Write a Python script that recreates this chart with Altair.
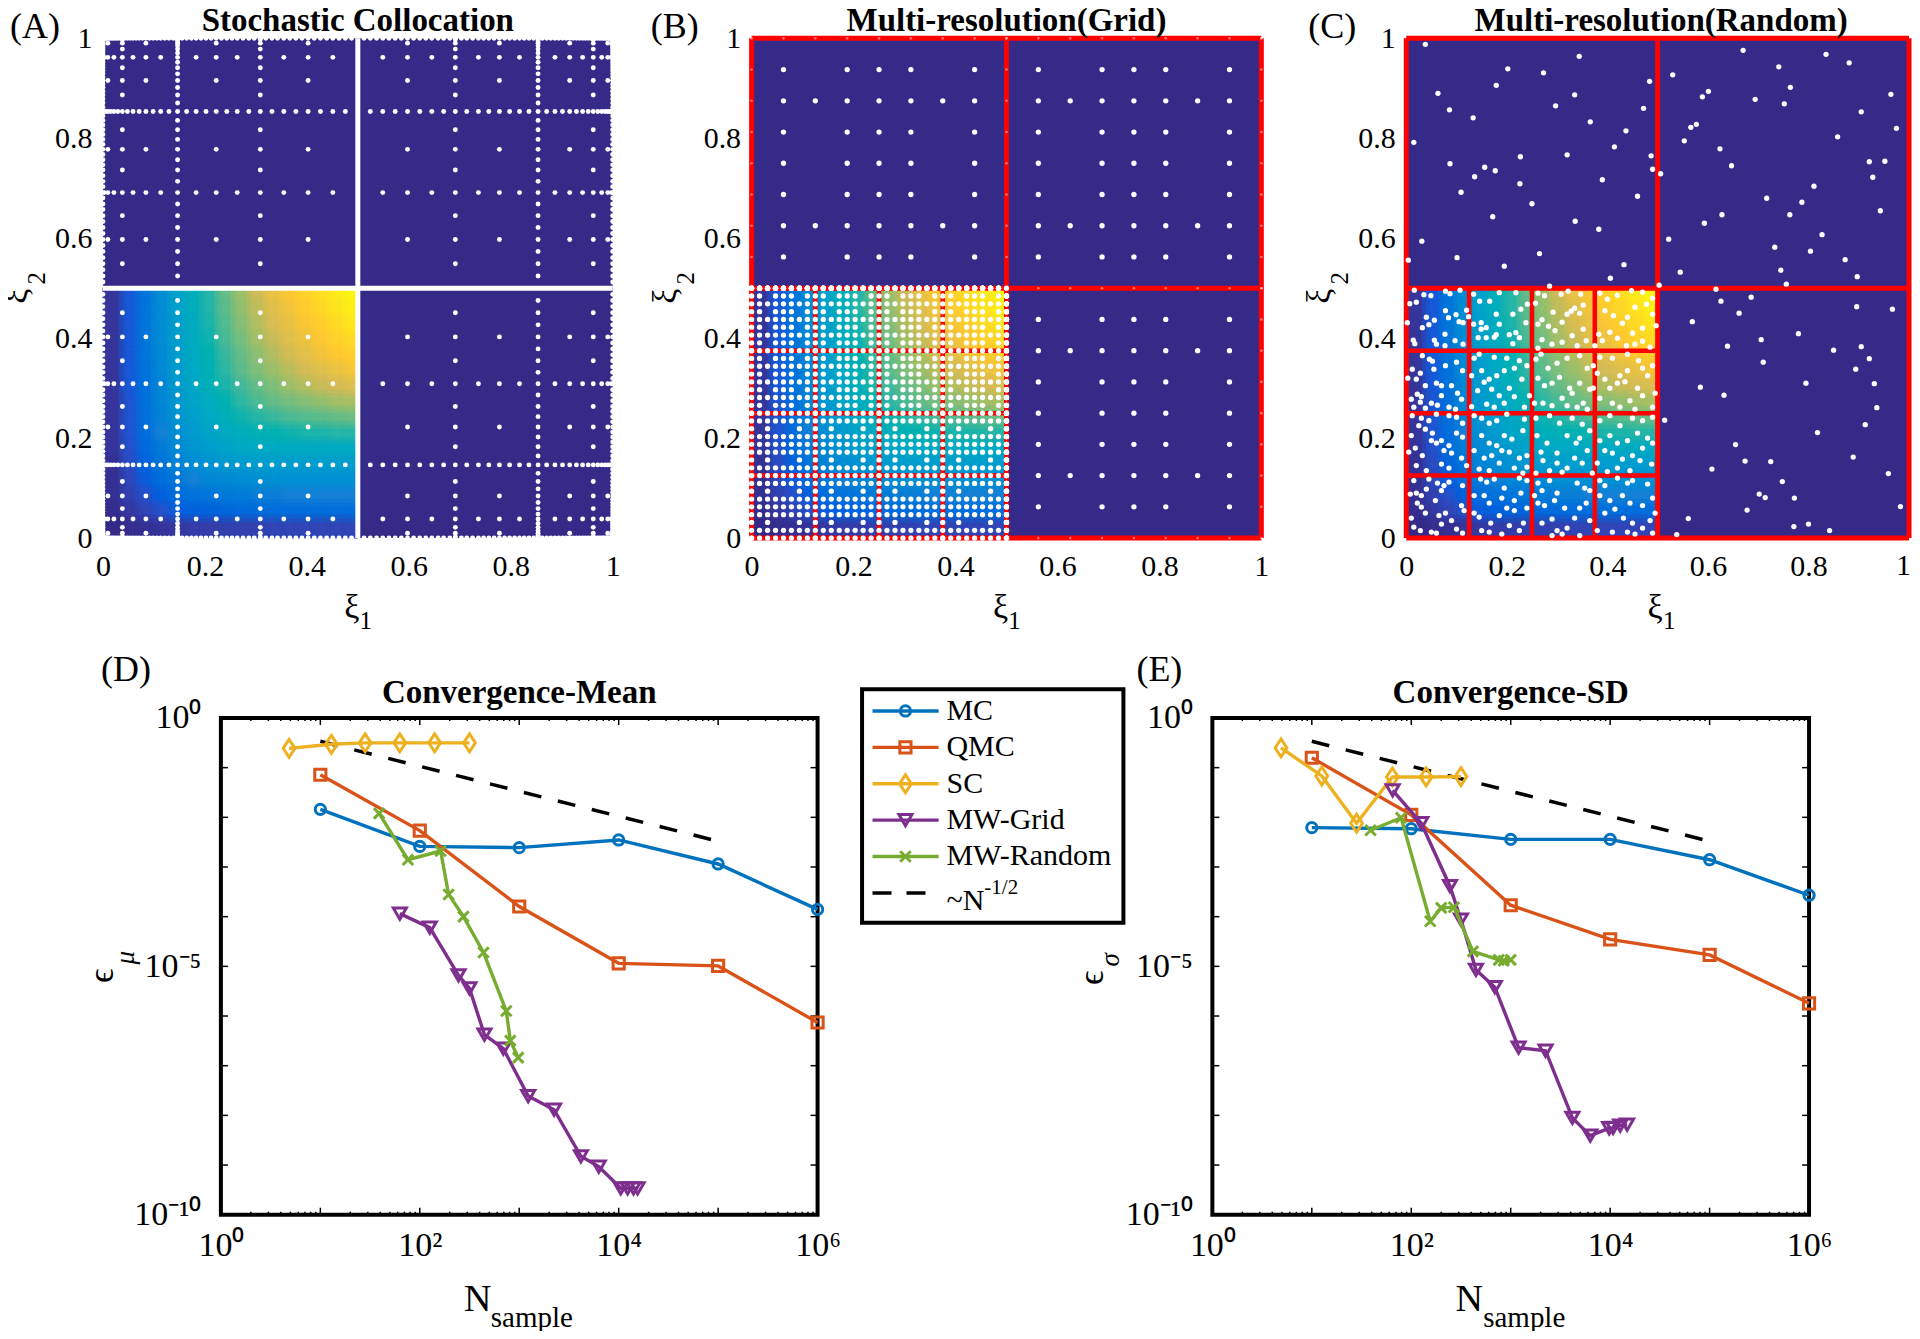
import altair as alt
import pandas as pd

SERIF = "Liberation Serif"
DARK = "#352a87"
RED = "#ff0000"
W, H = 510, 500
W_C = 503
WB, HB = 597, 497

PARULA_STOPS = [0, 0.125, 0.25, 0.375, 0.5, 0.6, 0.7, 0.82, 1]
PARULA_COLORS = ["#352a87", "#0f5cdd", "#1481d6", "#06a4ca", "#2eb7a4", "#87bf77", "#d1bb59", "#fec832", "#f9fb0e"]

# field of the lower-left quadrant; rows from y=0 upward, hundredths
FIELD = [
    [0, 1, 2, 3, 4, 5, 5, 6, 6, 6, 7, 7, 7, 7, 7, 7],
    [1, 4, 7, 10, 13, 14, 15, 16, 17, 17, 18, 18, 18, 18, 18, 18],
    [2, 6, 10, 14, 18, 20, 21, 22, 23, 24, 24, 25, 25, 25, 25, 25],
    [2, 8, 13, 18, 22, 25, 27, 28, 29, 30, 30, 30, 30, 30, 30, 30],
    [2, 9, 15, 21, 26, 29, 31, 33, 34, 35, 35, 35, 35, 35, 35, 35],
    [3, 10, 17, 23, 28, 32, 35, 37, 39, 40, 40, 41, 41, 41, 41, 41],
    [3, 11, 18, 25, 30, 34, 38, 41, 43, 45, 46, 47, 48, 48, 49, 49],
    [3, 11, 19, 26, 32, 36, 40, 44, 47, 49, 51, 53, 54, 55, 56, 57],
    [3, 11, 19, 27, 33, 38, 42, 46, 50, 53, 56, 58, 60, 62, 64, 65],
    [3, 12, 20, 27, 34, 39, 44, 48, 52, 56, 59, 63, 66, 69, 71, 73],
    [3, 12, 20, 28, 35, 40, 45, 50, 55, 59, 63, 67, 71, 74, 77, 80],
    [3, 12, 21, 28, 35, 41, 46, 51, 56, 61, 66, 71, 75, 79, 82, 85],
    [3, 12, 21, 29, 36, 42, 47, 53, 58, 64, 69, 74, 78, 82, 86, 89],
    [3, 12, 21, 29, 36, 42, 48, 54, 60, 66, 72, 77, 81, 85, 89, 93],
    [3, 12, 21, 29, 37, 43, 49, 55, 62, 68, 74, 79, 84, 88, 92, 96],
    [3, 12, 21, 29, 37, 43, 49, 56, 63, 70, 77, 82, 86, 90, 95, 99],
]

# Panel A sample coordinates (nested levels, lower half; upper half mirrors)
L4 = [0.1464]
L8 = [0.0381, 0.3087]
L16 = [0.0096, 0.0843, 0.2222, 0.4025]
L32 = [0.0024, 0.0215, 0.0590, 0.1133, 0.1828, 0.2634, 0.3548, 0.4510]
L64 = [0.0006, 0.0054, 0.0150, 0.0292, 0.0480, 0.0711, 0.0984, 0.1295, 0.1642, 0.2022, 0.2430, 0.2862, 0.3316, 0.3785, 0.4267, 0.4755]
L128 = [0.0002, 0.0014, 0.0038, 0.0074, 0.0122, 0.0182, 0.0253, 0.0335, 0.0429, 0.0534, 0.0650, 0.0776, 0.0913, 0.1058, 0.1214, 0.1379,
        0.1552, 0.1735, 0.1924, 0.2121, 0.2326, 0.2532, 0.2748, 0.2968, 0.3195, 0.3425, 0.3666, 0.3905, 0.4146, 0.4389, 0.4632, 0.4877]
EDGE = [0.0, 1.0]

# Panel B sample coordinates
B_FULL = [0.0625, 0.125, 0.1875, 0.25, 0.3125, 0.375, 0.4375]
B_SPARSE = [0.0625, 0.1875, 0.25, 0.3125, 0.4375]
B_FULL_ROWS = [0.125, 0.375]
B_SPARSE_ROWS = [0.0625, 0.1875, 0.25, 0.3125, 0.4375]
FINE = [0.0156, 0.0313, 0.0469, 0.0625, 0.0781, 0.0938, 0.1094]
FINE_EDGE = [0, 0.0156, 0.0313, 0.0469, 0.0625, 0.0781, 0.0938, 0.1094]
BLOCKS = [0, 0.125, 0.25, 0.375]

# Panel C samples (thousandths)
C_OUTER = [
    (38,988),(344,964),(202,939),(273,931),(484,914),(179,906),(63,890),(335,887),(297,865),(472,860),(86,857),(133,841),(366,833),(437,815),
    (15,792),(414,783),(227,763),(320,767),(487,765),(87,749),(156,742),(177,735),(490,738),(136,723),(390,717),(226,709),(109,692),(460,684),
    (250,669),(172,643),(336,634),(383,618),(31,594),(265,569),(101,561),(4,556),(195,544),(433,547),(406,520),(285,504),
    (670,976),(835,968),(881,951),(741,943),(530,927),(764,902),(601,894),(589,883),(694,878),(964,888),(752,869),(905,853),(577,828),(566,822),
    (975,820),(858,803),(553,795),(624,779),(952,754),(921,753),(647,745),(928,722),(506,729),(811,704),(717,680),(787,672),(943,655),(763,647),
    (628,647),(593,630),(827,607),(522,598),(733,582),(804,574),(873,557),(745,536),(545,532),(897,523),(756,508),(503,506),
    (616,498),(686,482),(626,474),(896,463),(967,458),(662,450),(569,433),(780,409),(706,397),(639,384),(905,383),(850,376),(921,359),(710,352),
    (894,338),(585,302),(795,310),(931,309),(632,286),(936,261),(514,236),(913,227),(818,211),(655,187),(889,162),(674,154),(725,153),(608,138),
    (959,129),(748,113),(702,88),(714,81),(772,80),(983,63),(678,56),(561,39),(800,28),(771,23),(842,15),(538,7),
]
C_INNER = [
    (16,496),(35,487),(49,485),(78,494),(87,489),(107,496),(7,469),(20,472),(40,442),(56,436),(45,427),(2,431),(32,421),(78,455),(99,447),(105,433),(84,441),(120,456),(124,443),(113,431),(14,396),(17,389),(56,396),(77,408),(60,388),(77,385),(97,395),(113,388),
    (134,488),(146,474),(166,474),(185,491),(218,491),(228,458),(241,468),(134,428),(149,431),(149,418),(159,421),(179,448),(185,428),(179,407),(212,448),(238,431),(205,407),(218,411),(143,401),(159,401),(175,402),(212,389),(225,401),
    (257,470),(262,490),(275,485),(308,488),(322,494),(347,488),(352,466),(345,450),(320,448),(328,454),(335,460),(292,452),(270,437),(262,428),(283,424),(296,415),(310,432),(330,405),(352,418),(358,395),(270,397),(290,388),(262,380),(310,392),(340,385),
    (385,490),(400,478),(420,486),(448,495),(470,492),(490,480),(395,455),(412,445),(430,430),(440,442),(455,462),(478,468),(490,448),(497,425),(470,420),(450,410),(405,412),(383,408),(390,395),(420,400),(438,385),(470,394),(455,388),(485,382),(375,385),
    (32,365),(46,358),(52,354),(12,338),(28,330),(55,338),(78,345),(100,352),(112,335),(3,320),(20,318),(38,305),(60,310),(30,283),(22,288),(10,278),(15,262),(28,272),(38,260),(50,270),(62,266),(70,285),(102,290),(110,278),(90,305),(70,305),(85,262),(98,258),
    (135,360),(145,368),(175,362),(200,360),(225,355),(150,335),(165,318),(180,325),(195,335),(215,340),(240,345),(130,325),(142,295),(155,312),(170,298),(205,300),(230,318),(160,268),(175,262),(185,285),(195,270),(215,283),(235,262),(245,285),(130,263),
    (258,358),(268,368),(282,340),(300,350),(320,360),(345,365),(360,340),(262,320),(275,305),(290,310),(305,322),(325,300),(345,310),(365,298),(272,270),(290,265),(310,280),(330,290),(340,262),(352,270),(360,258),(255,270),(320,265),(372,345),
    (385,362),(410,360),(440,368),(462,355),(380,330),(395,318),(425,325),(440,335),(470,340),(490,345),(405,300),(420,310),(435,313),(460,300),(480,325),(495,290),(385,280),(410,270),(445,275),(470,285),(490,262),(372,300),(425,262),(455,258),
    (12,245),(30,240),(45,235),(60,248),(85,245),(100,242),(112,230),(10,205),(25,225),(38,218),(52,210),(70,195),(85,185),(100,210),(112,202),(5,172),(18,180),(32,165),(50,195),(60,190),(75,175),(90,170),(110,160),(120,145),(20,145),(40,135),(85,140),(70,148),
    (135,245),(150,240),(165,230),(180,235),(200,248),(235,238),(150,205),(165,190),(180,185),(195,205),(210,198),(232,215),(135,175),(155,160),(170,165),(190,175),(205,172),(225,160),(240,165),(145,138),(165,135),(185,150),(215,140),(240,142),(232,130),
    (258,240),(285,245),(305,230),(330,240),(350,228),(365,215),(260,205),(280,190),(300,170),(320,205),(338,190),(345,200),(360,175),(272,155),(268,172),(285,135),(300,150),(320,140),(335,160),(350,150),(370,130),(310,132),(258,130),
    (385,235),(405,245),(425,225),(450,240),(470,235),(490,242),(385,195),(405,205),(420,190),(440,195),(460,210),(480,200),(395,175),(410,170),(430,158),(450,165),(470,180),(490,190),(380,150),(420,140),(445,135),(465,155),(488,148),(400,133),
    (15,115),(45,118),(62,110),(75,105),(85,112),(8,88),(20,90),(30,85),(40,98),(58,75),(70,95),(112,105),(22,70),(30,62),(38,50),(65,45),(78,50),(110,65),(115,55),(10,40),(15,22),(28,15),(50,12),(70,28),(90,35),(100,18),(112,10),(60,10),
    (148,118),(160,112),(175,118),(195,100),(225,120),(240,115),(135,85),(155,85),(165,70),(190,80),(215,75),(228,90),(135,50),(145,42),(168,30),(185,45),(200,60),(215,55),(240,60),(150,15),(165,12),(190,8),(205,25),(225,15),(233,30),
    (262,110),(270,95),(255,85),(285,115),(300,90),(340,110),(355,100),(365,95),(262,70),(275,65),(295,75),(315,60),(345,60),(358,70),(270,30),(290,38),(320,20),(335,40),(310,8),(300,15),(290,5),(345,5),(365,35),
    (385,115),(395,105),(420,120),(440,110),(450,115),(480,108),(385,85),(405,75),(430,85),(445,70),(470,65),(490,80),(395,50),(415,58),(432,40),(450,30),(470,20),(485,35),(495,50),(380,15),(410,12),(440,12),(455,8),(490,10),
]

# Convergence data
MC_X = [1e1, 1e2, 1e3, 1e4, 1e5, 1e6]
MEAN_MC = [1.45e-2, 2.6e-3, 2.45e-3, 3.5e-3, 1.15e-3, 1.4e-4]
MEAN_QMC = [7.2e-2, 5.4e-3, 1.6e-4, 1.15e-5, 1.02e-5, 7.4e-7]
MEAN_SC_X = [4.85, 12.9, 28.2, 63, 141, 316]
MEAN_SC = [0.245, 0.295, 0.316, 0.316, 0.316, 0.316]
MEAN_GRID_X = [63, 126, 245, 316, 447, 692, 1230, 2240, 4170, 6310, 10500, 12300, 14100, 15500]
MEAN_GRID = [1.15e-4, 6.0e-5, 6.6e-6, 3.6e-6, 4.2e-7, 2.2e-7, 2.45e-8, 1.3e-8, 1.5e-9, 9.3e-10, 3.4e-10, 3.4e-10, 3.4e-10, 3.4e-10]
MEAN_RAND_X = [39, 76, 162, 195, 275, 437, 741, 813, 977]
MEAN_RAND = [1.2e-2, 1.4e-3, 2.1e-3, 2.8e-4, 1.0e-4, 1.9e-5, 1.26e-6, 3.2e-7, 1.45e-7]

SD_MC = [6.2e-3, 5.9e-3, 3.6e-3, 3.6e-3, 1.4e-3, 2.7e-4]
SD_QMC = [0.158, 1.12e-2, 1.7e-4, 3.5e-5, 1.7e-5, 1.8e-6]
SD_SC_X = [4.9, 12.6, 28.2, 64.6, 141, 316]
SD_SC = [0.25, 0.068, 7.6e-3, 0.065, 0.065, 0.066]
SD_GRID_X = [65, 126, 245, 316, 447, 692, 1200, 2240, 4170, 6310, 9770, 10700, 12600, 14800]
SD_GRID = [3.5e-2, 7.6e-3, 4.1e-4, 8.7e-5, 8.5e-6, 3.8e-6, 2.3e-7, 2.0e-7, 8.9e-9, 3.9e-9, 5.5e-9, 5.6e-9, 6.2e-9, 6.5e-9]
SD_RAND_X = [39, 79, 155, 200, 269, 417, 759, 851, 1000]
SD_RAND = [5.5e-3, 9.8e-3, 8.1e-5, 1.5e-4, 1.55e-4, 2.0e-5, 1.35e-5, 1.3e-5, 1.35e-5]

REF_X = [1e1, 1e5]
REF_Y = [0.339, 3.3e-3]

SERIES_NAMES = ["MC", "QMC", "SC", "MW-Grid", "MW-Random"]
SERIES_COLORS = ["#0072bd", "#d95319", "#edb120", "#7e2f8e", "#77ac30"]
DIAMOND = "M0,-1L0.66,0L0,1L-0.66,0Z"
XMARK = "M-1,-1L1,1M-1,1L1,-1"
SERIES_SHAPES = ["circle", "square", DIAMOND, "triangle-down", XMARK]
SERIES_SIZES = [105, 125, 320, 170, 110]

DECADES_X = [1, 10, 100, 1e3, 1e4, 1e5, 1e6]
DECADES_Y = [1, 1e-1, 1e-2, 1e-3, 1e-4, 1e-5, 1e-6, 1e-7, 1e-8, 1e-9, 1e-10]
MINOR_FACTORS = [2, 3, 4, 5, 6, 7, 8, 9]

TICKS_UNIT = [0, 0.2, 0.4, 0.6, 0.8, 1]
TICKS_UNIT_C = [0, 0.2, 0.4, 0.6, 0.8]

TITLE_A = "Stochastic Collocation"
TITLE_B = "Multi-resolution(Grid)"
TITLE_C = "Multi-resolution(Random)"
TITLE_D = "Convergence-Mean"
TITLE_E = "Convergence-SD"


def mirror(values):
    return list(values) + [round(1 - v, 4) for v in values]


def txt(s, x, y, size, align="center", **kw):
    base = kw.pop("baseline", "middle")
    return alt.Chart(pd.DataFrame({"t": [s]})).mark_text(
        font=SERIF, fontSize=size, align=align, baseline=base, color="black", **kw
    ).encode(x=alt.value(x), y=alt.value(y), text="t:N")


def head(title, x, y):
    return txt(title, x, y, 33, fontWeight="bold", baseline="alphabetic")


UNIT = alt.Scale(domain=[0, 1], nice=False, zero=False)
UAX = dict(format=".1~f", labelFont=SERIF, labelFontSize=30,
           labelColor="black", ticks=False, domain=False, grid=False, title=None, labelFlush=False)
X_U = alt.X("x:Q", scale=UNIT, axis=alt.Axis(values=TICKS_UNIT, labelPadding=13, **UAX))
Y_U = alt.Y("y:Q", scale=UNIT, axis=alt.Axis(values=TICKS_UNIT, labelPadding=11, labelBaseline="middle", **UAX))


def field_df(shift_x=0.0, shift_y=0.0):
    rows = []
    n = len(FIELD)
    for j, row in enumerate(FIELD):
        for i, v in enumerate(row):
            x0 = (i + shift_x) / n * 0.5
            y0 = (j + shift_y) / n * 0.5
            x1 = min((i + 1 + shift_x) / n * 0.5, 0.5)
            y1 = min((j + 1 + shift_y) / n * 0.5, 0.5)
            rows.append({"x": x0, "x2": x1, "y": y0, "y2": y1, "v": v / 100})
    return pd.DataFrame(rows)


def heat_layer(shift_x, shift_y, opacity):
    cs = alt.Scale(domain=PARULA_STOPS, range=PARULA_COLORS)
    return alt.Chart(field_df(shift_x, shift_y)).mark_rect(strokeWidth=0.6, opacity=opacity).encode(
        x=X_U, x2="x2:Q", y=Y_U, y2="y2:Q",
        color=alt.Color("v:Q", scale=cs, legend=None),
        stroke=alt.Stroke("v:Q", scale=cs, legend=None),
    )


def heat():
    return alt.layer(heat_layer(0, 0, 1), heat_layer(0.5, 0, 0.5), heat_layer(0, 0.5, 0.5), heat_layer(0.25, 0.25, 0.33))


def dots(points, size=28, opacity=1.0):
    df = pd.DataFrame(points, columns=["x", "y"])
    return alt.Chart(df).mark_circle(size=size, color="white", opacity=opacity).encode(x=X_U, y=Y_U)


def lines(segs, color, width):
    df = pd.DataFrame(segs, columns=["x", "y", "x2", "y2"])
    return alt.Chart(df).mark_rule(color=color, strokeWidth=width).encode(x=X_U, y=Y_U, x2="x2:Q", y2="y2:Q")


def common(letter, letter_x, title):
    return [
        txt("ξ", 249, 570, 34),
        txt("1", 263, 583, 25),
        txt("ξ", -86, 258, 34, angle=270),
        txt("2", -66, 240, 25, angle=270),
        txt(letter, letter_x, -11, 36, align="left"),
        head(title, W / 2, -7),
    ]


def panel(layers, width=W):
    return alt.layer(*layers).properties(
        width=width, height=H,
        view=alt.ViewBackground(fill=DARK, stroke=None),
    )


# --- Panel A
levels = [(EDGE, 2), (mirror(L4), 4), (mirror(L8), 8), (mirror(L16), 16), (mirror(L32), 32), (mirror(L64), 64), (mirror(L128), 128)]
pts_a = []
for xs, nx in levels:
    for ys, ny in levels:
        if nx * ny <= 256:
            pts_a += [(a, b) for a in xs for b in ys]
a_lines = [(0.5, 0, 0.5, 1), (0, 0.5, 1, 0.5)]
A = panel([heat(), dots(pts_a, size=24), lines(a_lines, "white", 5)] + common("(A)", -93, TITLE_A))

# --- Panel B
red_outer = [(0, 0, 1, 0), (0, 1, 1, 1), (0, 0, 0, 1), (1, 0, 1, 1), (0.5, 0, 0.5, 1), (0, 0.5, 1, 0.5)]
red_inner = [(k, 0, k, 0.5) for k in BLOCKS[1:]] + [(0, k, 0.5, k) for k in BLOCKS[1:]]
pts_b = []
for ox, oy in [(0, 0.5), (0.5, 0.5), (0.5, 0)]:
    for r in B_FULL_ROWS:
        pts_b += [(ox + a, oy + r) for a in B_FULL]
    for r in B_SPARSE_ROWS:
        pts_b += [(ox + a, oy + r) for a in B_SPARSE]
edge_b = []
for k in [0.0, 0.5, 1.0]:
    edge_b += [(k, 0.5 + a) for a in [0] + B_FULL] + [(0.5 + a, k) for a in [0] + B_FULL]
    edge_b += [(k, 1.0), (1.0, k)]
    if k != 0.0:
        edge_b += [(k, a) for a in B_FULL] + [(a, k) for a in B_FULL]
pts_fine = []
for bx in BLOCKS:
    for by in BLOCKS:
        for i, r in enumerate(FINE):
            for j, c in enumerate(FINE):
                if by >= 0.25:
                    keep = j not in (1, 5) or i in (1, 3, 5)
                else:
                    keep = i not in (1, 5) or j in (1, 5)
                if keep:
                    pts_fine.append((bx + c, by + r))
        for c in FINE_EDGE:
            pts_fine.append((bx + c, by))
            pts_fine.append((by, bx + c))
            pts_fine.append((bx + c, 0.5))
            pts_fine.append((0.5, bx + c))
pts_fine.append((0.5, 0.5))
B = panel(
    [heat(), lines(red_outer, RED, 5), lines(red_inner, RED, 4.5), dots(pts_b), dots(edge_b, size=7, opacity=0.45), dots(pts_fine)]
    + common("(B)", -101, TITLE_B))

# --- Panel C (slightly narrower, and its last tick label placed, so that it stays on the page)
X_U = alt.X("x:Q", scale=UNIT, axis=alt.Axis(values=TICKS_UNIT_C, labelPadding=13, **UAX))
pts_c = [(a / 1000, b / 1000) for a, b in C_OUTER + C_INNER]
C = panel([heat(), lines(red_outer, RED, 5), lines(red_inner, RED, 4.5), dots(pts_c), txt("1", W_C + 2, H + 28, 30, align="right")]
          + common("(C)", -98, TITLE_C), width=W_C)


# --- Convergence panels
LOGX = alt.Scale(type="log", domain=[1, 1e6], nice=False)
LOGY = alt.Scale(type="log", domain=[1e-10, 1], nice=False)
NOX = alt.X("n:Q", scale=LOGX, axis=None)
NOY = alt.Y("e:Q", scale=LOGY, axis=None)


def series_layers(k, xs, ys):
    df = pd.DataFrame({"n": xs, "e": ys})
    line = alt.Chart(df).mark_line(color=SERIES_COLORS[k], strokeWidth=3.4).encode(x=NOX, y=NOY)
    pt = alt.Chart(df).mark_point(
        shape=SERIES_SHAPES[k], size=SERIES_SIZES[k], color=SERIES_COLORS[k], filled=False, strokeWidth=3, opacity=1
    ).encode(x=NOX, y=NOY)
    return [line, pt]


def tick_layers():
    xm = [d * f for d in DECADES_X[:-1] for f in MINOR_FACTORS]
    layers = []
    for vals, length in [(DECADES_X, 7), (xm, 3)]:
        df = pd.DataFrame({"n": vals})
        layers.append(alt.Chart(df).mark_rule(color="black", strokeWidth=1.5).encode(x=NOX, y=alt.value(0), y2=alt.value(length)))
        layers.append(alt.Chart(df).mark_rule(color="black", strokeWidth=1.5).encode(x=NOX, y=alt.value(HB), y2=alt.value(HB - length)))
    df = pd.DataFrame({"e": DECADES_Y})
    layers.append(alt.Chart(df).mark_rule(color="black", strokeWidth=1.5).encode(y=NOY, x=alt.value(0), x2=alt.value(7)))
    layers.append(alt.Chart(df).mark_rule(color="black", strokeWidth=1.5).encode(y=NOY, x=alt.value(WB), x2=alt.value(WB - 7)))
    return layers


def axes_layer():
    df = pd.DataFrame({"n": [1], "e": [1]})
    xax = alt.Axis(values=[1, 100, 1e4, 1e6], labelFont=SERIF, labelFontSize=34, labelColor="black", labelPadding=14, ticks=False,
                   domain=False, grid=False, title=None, labelFlush=False,
                   labelExpr="datum.value<10?'10⁰':datum.value<1000?'10²':datum.value<1e5?'10⁴':'10⁶'")
    yax = alt.Axis(values=[1, 1e-5, 1e-10], labelFont=SERIF, labelFontSize=34, labelColor="black", labelPadding=20, ticks=False,
                   domain=False, grid=False, title=None, labelBaseline="middle",
                   labelExpr="datum.value>0.5?'10⁰':datum.value>1e-7?'10⁻⁵':'10⁻¹⁰'")
    return alt.Chart(df).mark_point(opacity=0).encode(x=alt.X("n:Q", scale=LOGX, axis=xax), y=alt.Y("e:Q", scale=LOGY, axis=yax))


def conv(title, series, letter, letter_x, ylab, ylab_pos, extra=None):
    layers = [axes_layer()] + tick_layers()
    ref = pd.DataFrame({"n": REF_X, "e": REF_Y})
    layers.append(alt.Chart(ref).mark_line(color="black", strokeWidth=3.5, strokeDash=[18, 17]).encode(x=NOX, y=NOY))
    for k, (xs, ys) in enumerate(series):
        layers += series_layers(k, xs, ys)
    layers += [
        txt("N", 257, 582, 38),
        txt("sample", ylab_pos[4], 600, 29, align="left"),
        txt("ϵ", ylab_pos[0], ylab_pos[1], 36, angle=270),
        txt(ylab, ylab_pos[2], ylab_pos[3], 27, angle=270, fontStyle="italic"),
        txt(letter, letter_x, -48, 36, align="left"),
        head(title, WB / 2, -15),
    ]
    if extra:
        layers += extra
    return alt.layer(*layers).resolve_scale(x="independent", y="independent").properties(
        width=WB, height=HB,
        view=alt.ViewBackground(fill="white", stroke="black", strokeWidth=4),
    )


# Legend, placed by its own scales to the right of panel D
LX = alt.Scale(domain=[0, 1], range=[641.5, 903], nice=False, zero=False)
LY = alt.Scale(domain=[0, 5], range=[-7, 175], nice=False, zero=False)


def legend_layers():
    layers = []
    box = pd.DataFrame({"a": [0.0], "a2": [1.0], "b": [-0.6], "b2": [5.82]})
    layers.append(alt.Chart(box).mark_rect(fill="white", stroke="black", strokeWidth=4).encode(
        x=alt.X("a:Q", scale=LX, axis=None), x2="a2:Q", y=alt.Y("b:Q", scale=LY, axis=None), y2="b2:Q"))
    for k, name in enumerate(SERIES_NAMES):
        seg = pd.DataFrame({"a": [0.04, 0.293], "b": [k, k]})
        layers.append(alt.Chart(seg).mark_line(color=SERIES_COLORS[k], strokeWidth=3.4).encode(
            x=alt.X("a:Q", scale=LX, axis=None), y=alt.Y("b:Q", scale=LY, axis=None)))
        p = pd.DataFrame({"a": [0.166], "b": [k]})
        layers.append(alt.Chart(p).mark_point(shape=SERIES_SHAPES[k], size=SERIES_SIZES[k], color=SERIES_COLORS[k], filled=False,
                                              strokeWidth=3, opacity=1).encode(
            x=alt.X("a:Q", scale=LX, axis=None), y=alt.Y("b:Q", scale=LY, axis=None)))
        t = pd.DataFrame({"a": [0.323], "b": [k], "t": [name]})
        layers.append(alt.Chart(t).mark_text(font=SERIF, fontSize=30, align="left", baseline="middle", color="black").encode(
            x=alt.X("a:Q", scale=LX, axis=None), y=alt.Y("b:Q", scale=LY, axis=None), text="t:N"))
    seg = pd.DataFrame({"a": [0.04, 0.293], "b": [5, 5]})
    layers.append(alt.Chart(seg).mark_line(color="black", strokeWidth=3.5, strokeDash=[19, 15]).encode(
        x=alt.X("a:Q", scale=LX, axis=None), y=alt.Y("b:Q", scale=LY, axis=None)))
    t = pd.DataFrame({"a": [0.323], "b": [5], "t": ["~N"]})
    layers.append(alt.Chart(t).mark_text(font=SERIF, fontSize=30, align="left", baseline="middle", color="black", dy=8).encode(
        x=alt.X("a:Q", scale=LX, axis=None), y=alt.Y("b:Q", scale=LY, axis=None), text="t:N"))
    t = pd.DataFrame({"a": [0.468], "b": [5], "t": ["-1/2"]})
    layers.append(alt.Chart(t).mark_text(font=SERIF, fontSize=21, align="left", baseline="middle", color="black", dy=-5).encode(
        x=alt.X("a:Q", scale=LX, axis=None), y=alt.Y("b:Q", scale=LY, axis=None), text="t:N"))
    return layers


D = conv(TITLE_D,
         [(MC_X, MEAN_MC), (MC_X, MEAN_QMC), (MEAN_SC_X, MEAN_SC), (MEAN_GRID_X, MEAN_GRID), (MEAN_RAND_X, MEAN_RAND)],
         "(D)", -120, "μ", (-119, 258, -95, 240, 270), extra=legend_layers())
E = conv(TITLE_E,
         [(MC_X, SD_MC), (MC_X, SD_QMC), (SD_SC_X, SD_SC), (SD_GRID_X, SD_GRID), (SD_RAND_X, SD_RAND)],
         "(E)", -76, "σ", (-120, 260, -101, 242, 271))

spacer = alt.Chart(pd.DataFrame({"a": [0]})).mark_rule(opacity=0).encode(x=alt.value(0)).properties(width=1, height=1)

top = alt.hconcat(A, alt.hconcat(B, C, spacing=145, bounds="flush"), spacing=139, bounds="flush")
bottom = alt.hconcat(spacer, alt.hconcat(D, E, spacing=395, bounds="flush"), spacing=117, bounds="flush")
chart = alt.vconcat(top, bottom, spacing=680, bounds="flush").properties(
    padding={"left": -8, "top": -3, "right": 0, "bottom": -4}, background="white"
).configure_view(strokeWidth=0)

chart.save("out.html", embed_options={"renderer": "svg", "actions": False})
